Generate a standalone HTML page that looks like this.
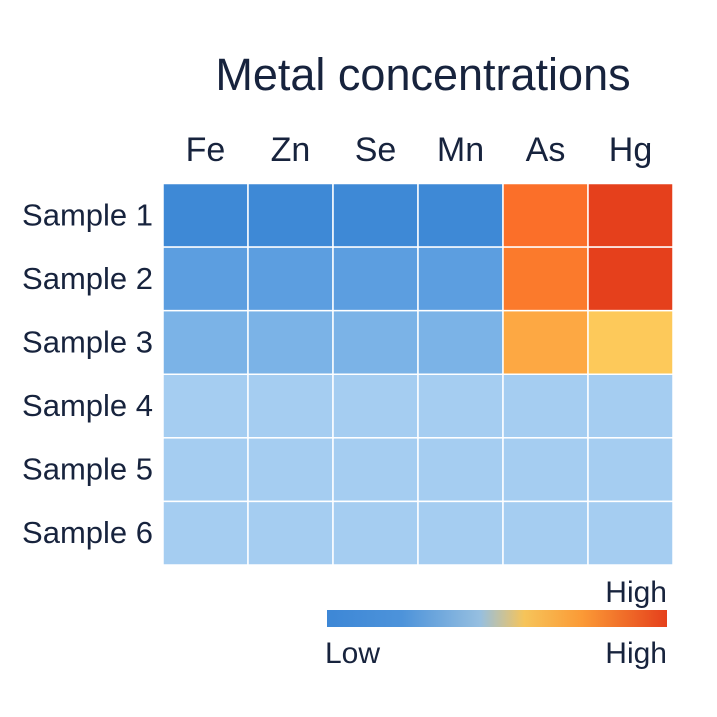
<!DOCTYPE html>
<html><head><meta charset="utf-8"><style>
body{margin:0;background:#fff;}
svg{display:block;font-family:"Liberation Sans",sans-serif;}
</style></head><body>
<svg id="chart" width="717" height="717">
<defs><linearGradient id="cb" x1="0" x2="1" y1="0" y2="0">
<stop offset="0" stop-color="#3d87d6"/><stop offset="0.22" stop-color="#4d93da"/><stop offset="0.45" stop-color="#96bfe0"/><stop offset="0.58" stop-color="#f6c45a"/><stop offset="0.75" stop-color="#fb9a36"/><stop offset="1" stop-color="#e5401c"/>
</linearGradient></defs>
<text x="423" y="90" text-anchor="middle" font-size="45" fill="#17233d">Metal concentrations</text>
<g id="cells"></g>
<g id="cols"></g>
<g id="rows"></g>
<rect x="327" y="610" width="340" height="17" fill="url(#cb)"/>
<text x="667" y="602" text-anchor="end" font-size="30" fill="#17233d">High</text>
<text x="325" y="663" font-size="30" fill="#17233d">Low</text>
<text x="667" y="663" text-anchor="end" font-size="30" fill="#17233d">High</text>
</svg>
<script>
const metals=["Fe","Zn","Se","Mn","As","Hg"];
const samples=["Sample 1","Sample 2","Sample 3","Sample 4","Sample 5","Sample 6"];
const values=[
[0.3,0.3,0.3,0.3,0.85,1.0],
[0.2,0.2,0.2,0.2,0.83,1.0],
[0.1,0.1,0.1,0.1,0.7,0.6],
[0,0,0,0,0,0],
[0,0,0,0,0,0],
[0,0,0,0,0,0]];
const stops=[[0,"#a5cdf1"],[0.1,"#7bb3e7"],[0.2,"#5c9ee0"],[0.3,"#3e89d6"],[0.6,"#fdc95a"],[0.7,"#fda843"],[0.83,"#fb7a2c"],[0.85,"#fb6f29"],[1,"#e5401c"]];
function hex(c){return [1,3,5].map(i=>parseInt(c.substr(i,2),16));}
function color(v){for(let i=1;i<stops.length;i++){if(v<=stops[i][0]){const a=stops[i-1],b=stops[i];const t=(v-a[0])/(b[0]-a[0]||1);const ca=hex(a[1]),cb=hex(b[1]);return "rgb("+ca.map((x,k)=>Math.round(x+(cb[k]-x)*t)).join(",")+")";}}return stops[stops.length-1][1];}
const x0=163,x1=673,y0=183.5,y1=565;
const cw=(x1-x0)/metals.length,rh=(y1-y0)/samples.length;
const X=i=>x0+i*cw,Y=j=>y0+j*rh;
const NS="http://www.w3.org/2000/svg";
const gc=document.getElementById("cells"),gx=document.getElementById("cols"),gy=document.getElementById("rows");
values.forEach((row,j)=>row.forEach((v,i)=>{
const r=document.createElementNS(NS,"rect");
r.setAttribute("x",X(i));r.setAttribute("y",Y(j));r.setAttribute("width",cw);r.setAttribute("height",rh);
r.setAttribute("fill",color(v));r.setAttribute("stroke","#fff");r.setAttribute("stroke-width","1.5");


gc.appendChild(r);}));
metals.forEach((m,i)=>{
const t=document.createElementNS(NS,"text");
t.setAttribute("x",X(i)+cw/2);t.setAttribute("y",161);t.setAttribute("text-anchor","middle");t.setAttribute("font-size","34");t.setAttribute("fill","#17233d");
t.textContent=m;


gx.appendChild(t);});
samples.forEach((s,j)=>{
const t=document.createElementNS(NS,"text");
t.setAttribute("x",153);t.setAttribute("y",Y(j)+rh/2+10);t.setAttribute("text-anchor","end");t.setAttribute("font-size","31");t.setAttribute("fill","#17233d");
t.textContent=s;


gy.appendChild(t);});
</script>
</body></html>
